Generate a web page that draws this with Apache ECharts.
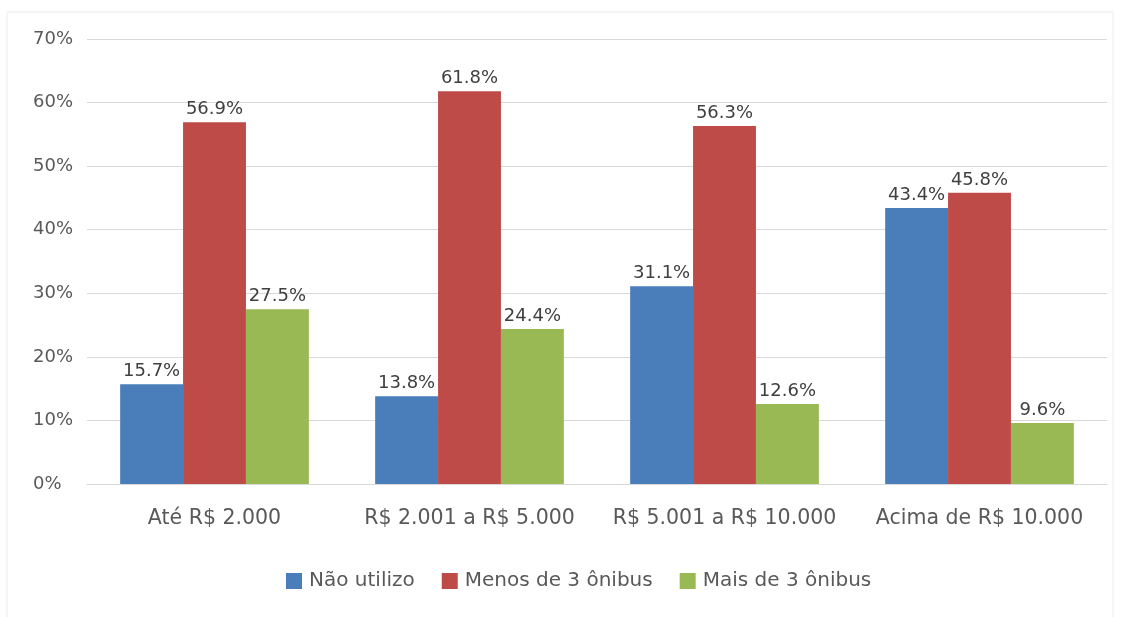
<!DOCTYPE html>
<html><head><meta charset="utf-8">
<script src="https://cdn.jsdelivr.net/npm/echarts@6/dist/echarts.min.js"></script>
<style>html,body{margin:0;padding:0;background:#fff}#c{width:1124px;height:617px}</style>
</head><body><div id="c"></div>
<script>
const categories = ['Até R$ 2.000', 'R$ 2.001 a R$ 5.000', 'R$ 5.001 a R$ 10.000', 'Acima de R$ 10.000'];
const seriesNames = ['Não utilizo', 'Menos de 3 ônibus', 'Mais de 3 ônibus'];
const naoUtilizo = [15.7, 13.8, 31.1, 43.4];
const menosDe3 = [56.9, 61.8, 56.3, 45.8];
const maisDe3 = [27.5, 24.4, 12.6, 9.6];
const yTicks = [0, 10, 20, 30, 40, 50, 60, 70];
const colors = ['#4A7EBB', '#BE4B48', '#98B954'];
const FONT = '"DejaVu Sans"';
const chart = echarts.init(document.getElementById('c'));
const mk = (name, data, i) => ({
  name, type: 'bar', data, barGap: '0%', barCategoryGap: '26%',
  itemStyle: { color: colors[i] },
  label: { show: true, position: 'top', distance: 4, formatter: p => p.value.toFixed(1) + '%',
    color: '#404040', fontSize: 18, fontFamily: FONT }
});
chart.setOption({
  animation: false,
  graphic: [{ type: 'rect', shape: { x: 7, y: 12, width: 1106, height: 620 },
    style: { fill: 'none', stroke: '#ececec', lineWidth: 1 }, silent: true }],
  grid: { left: 87, right: 17, top: 39, bottom: 133, containLabel: false },
  legend: { top: 566, left: 281, itemWidth: 16, itemHeight: 16, itemGap: 27,
    icon: 'rect', textStyle: { color: '#595959', fontSize: 20, fontFamily: FONT, padding: [0, 0, 0, 2] }, data: seriesNames },
  xAxis: { type: 'category', data: categories,
    axisLine: { lineStyle: { color: '#d9d9d9' } }, axisTick: { show: false },
    axisLabel: { interval: 0, color: '#595959', fontSize: 20.5, fontFamily: FONT, margin: 24 } },
  yAxis: { type: 'value', min: 0, max: 70, interval: 10,
    axisLabel: { formatter: v => yTicks.includes(v) ? v + '%' : '', color: '#595959', fontSize: 18, fontFamily: FONT, margin: 54, align: 'left' },
    splitLine: { lineStyle: { color: '#d9d9d9' } }, axisLine: { show: false }, axisTick: { show: false } },
  series: [mk(seriesNames[0], naoUtilizo, 0), mk(seriesNames[1], menosDe3, 1), mk(seriesNames[2], maisDe3, 2)]
});
</script></body></html>
